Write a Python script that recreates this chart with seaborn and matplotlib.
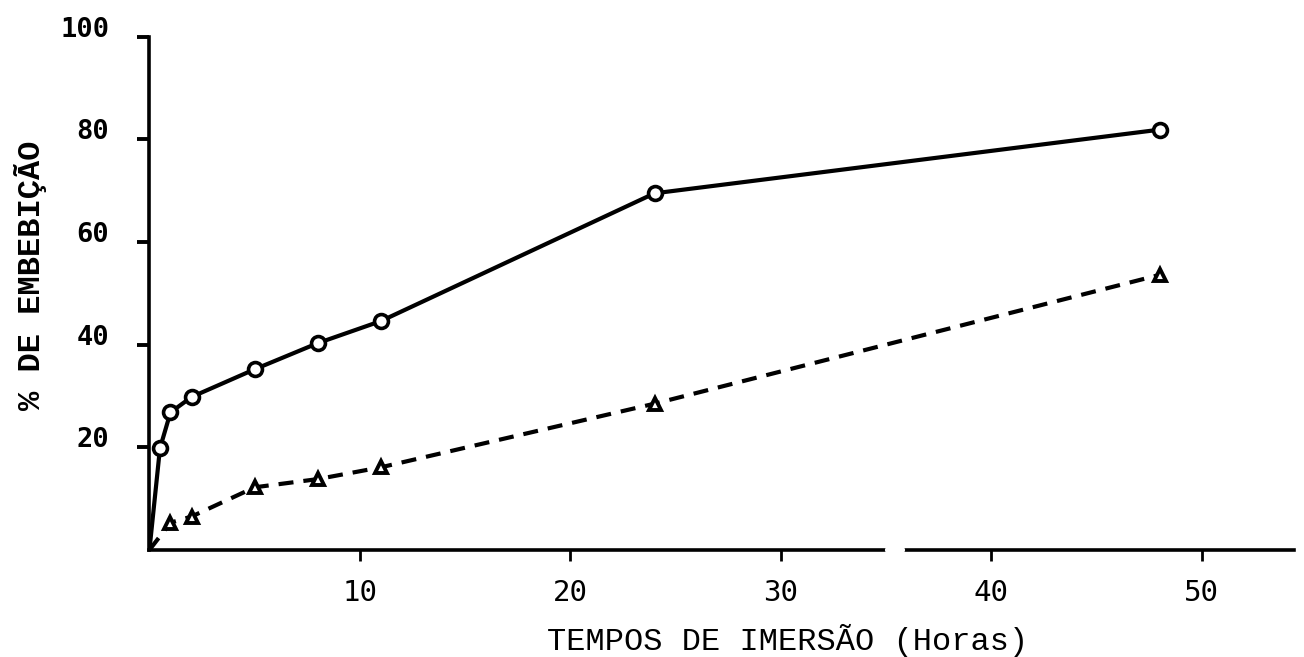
import matplotlib
matplotlib.use("Agg")
import matplotlib.pyplot as plt
import matplotlib.transforms as mtransforms
import seaborn as sns
import pandas as pd

# values
horas_circ = [0, 0.5, 1, 2, 5, 8, 11, 24, 48]
emb_circ = [0, 19.8, 26.8, 29.8, 35.2, 40.3, 44.6, 69.5, 81.9]
horas_tri = [0, 1, 2, 5, 8, 11, 24, 48]
emb_tri = [0, 5.3, 6.5, 12.2, 13.8, 16.1, 28.5, 53.6]

xticks = [10, 20, 30, 40, 50]
yticks = [20, 40, 60, 80, 100]

df_circ = pd.DataFrame({"horas": horas_circ, "emb": emb_circ})
df_tri = pd.DataFrame({"horas": horas_tri, "emb": emb_tri})

sns.set_style("ticks")
plt.rcParams["font.family"] = ["DejaVu Sans Mono", "DejaVu Sans"]

fig = plt.figure(figsize=(13.04, 6.57), dpi=100)
ax = fig.add_axes([0.1146, 0.163, 0.878, 0.781])

sns.lineplot(data=df_circ, x="horas", y="emb", ax=ax, color="black", lw=3,
             marker="o", ms=10, mfc="white", mec="black", mew=2.6,
             markevery=slice(1, None))
sns.lineplot(data=df_tri, x="horas", y="emb", ax=ax, color="black", lw=3,
             linestyle=(0, (3.6, 2.4)),
             marker="^", ms=9, mfc="white", mec="black", mew=2.8,
             markevery=slice(1, None))

ax.set_xlim(0, 54.4)
ax.set_ylim(0, 100)
ax.set_xticks(xticks)
ax.set_yticks(yticks)
sns.despine(ax=ax)
for side in ["left", "bottom"]:
    ax.spines[side].set_linewidth(2.6)
    ax.spines[side].set_color("black")

ax.tick_params(axis="x", length=8, width=2, pad=13, labelsize=21, colors="black")
ax.tick_params(axis="y", length=9, width=2.8, pad=20, labelsize=19.5, colors="black")
for lab in ax.get_yticklabels():
    lab.set_fontweight("bold")
    lab.set_transform(lab.get_transform() +
                      mtransforms.ScaledTranslation(0, 0.1, fig.dpi_scale_trans))

# small break in the x axis line, as in the original drawing
ax.plot([35.1, 35.75], [0, 0], color="white", lw=4.5, clip_on=False, zorder=5)

ax.set_xlabel("TEMPOS DE IMERSÃO (Horas)", family=["Liberation Mono", "DejaVu Sans Mono"],
              fontsize=23, color="black", va="center", ha="center")
ax.xaxis.set_label_coords(0.557, -0.177)
ax.set_ylabel("% DE EMBEBIÇÃO", family=["Liberation Mono", "DejaVu Sans Mono"],
              fontsize=23, fontweight="bold", color="black", va="center", ha="center")
ax.yaxis.set_label_coords(-0.104, 0.536)

fig.savefig("out.png", dpi=100)
